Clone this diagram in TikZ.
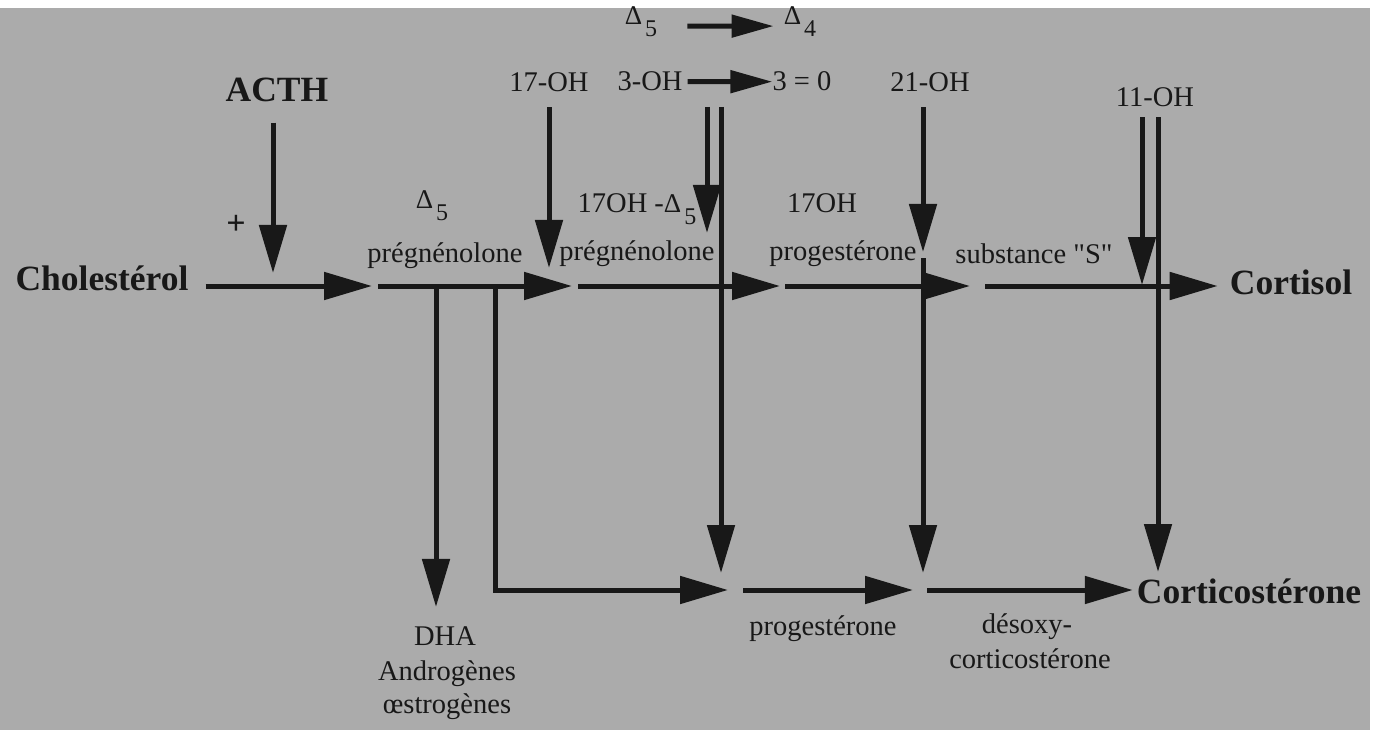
\documentclass[tikz,border=0pt]{standalone}
\usepackage{fontspec}
\setmainfont{Liberation Serif}
\newfontfamily\plainfont{Liberation Serif}[Ligatures=TeXOff]
\usetikzlibrary{arrows.meta}

\definecolor{paper}{RGB}{171,171,171}
\definecolor{ink}{RGB}{24,24,24}

% Delta with a lowered index
\newcommand{\dsub}[1]{{\fontsize{27}{27}\selectfont Δ}\hspace{3pt}\raisebox{-12pt}{\fontsize{24}{24}\selectfont #1}}

\begin{document}
\begin{tikzpicture}[x=1pt,y=-1pt]
        % Setup the styles
        \tikzset{big/.style={font=\fontsize{35.5}{40}\selectfont\bfseries,
                             text=ink, inner sep=0pt, anchor=base},
                 small/.style={font=\fontsize{28.5}{34}\selectfont,
                               text=ink, inner sep=0pt, anchor=base},
                 flow/.style={draw=ink, line width=5pt,
                              -{Triangle[length=48pt,width=27pt]}},
                 shiftarrow/.style={draw=ink, line width=5pt,
                                    -{Triangle[length=42pt,width=22pt]}}}

        % Paper
        \fill[white] (0,0) rectangle (1381,730);
        \fill[paper] (0,8) rectangle (1370,730);
        \useasboundingbox (0,0) rectangle (1381,730);

        % Main compounds
        \node[big] at (102,290)   (chol)     {Cholestérol};
        \node[big] at (1291,294)  (cortisol) {Cortisol};
        \node[big] at (1249,603)  (cortico)  {Corticostérone};
        \node[big] at (277,102)   (acth)     {ACTH};
        \node[small, font=\fontsize{34}{34}\selectfont\bfseries]
            at (236,234) (plus) {+};

        % Enzymes on top
        \node[small] at (641,25)   (dfive)   {\dsub{5}};
        \node[small] at (800,25)   (dfour)   {\dsub{4}};
        \node[small] at (549,92)   (oh17)    {17-OH};
        \node[small] at (650,91)   (ohthree) {3-OH};
        \node[small] at (802,91)   (keto)    {3 = 0};
        \node[small] at (930,92)   (oh21)    {21-OH};
        \node[small] at (1155,107) (oh11)    {11-OH};

        % Intermediates
        \node[small] at (432,208)  (dpreg)    {\dsub{5}};
        \node[small] at (445,262)  (pregA)    {prégnénolone};
        \node[small] at (637,213)  (ohpreg)   {17OH -\dsub{5}};
        \node[small] at (637,260)  (pregB)    {prégnénolone};
        \node[small] at (822,213)  (ohprog)   {17OH};
        \node[small] at (843,260)  (progA)    {progestérone};
        \node[small] at (1034,263) (subs)     {substance {\plainfont "S"}};
        \node[small] at (445,645)  (dha)      {DHA};
        \node[small] at (447,680)  (andro)    {Androgènes};
        \node[small] at (447,713)  (oestro)   {œstrogènes};
        \node[small] at (823,635)  (progB)    {progestérone};
        \node[small] at (1027,633) (desoxy)   {désoxy-};
        \node[small] at (1030,668) (desoxyB)  {corticostérone};

        % Points on the two lines
        \coordinate (m1) at (372,286);
        \coordinate (m2) at (572,286);
        \coordinate (m3) at (780,286);
        \coordinate (m4) at (970,286);
        \coordinate (fork1) at (436,284);
        \coordinate (fork2) at (495,284);
        \coordinate (b0) at (495,590);
        \coordinate (b1) at (728,590);
        \coordinate (b2) at (913,590);
        \coordinate (oxa) at (707,107);
        \coordinate (oxb) at (721,107);
        \coordinate (oxaend) at (707,233);
        \coordinate (oxbend) at (721,573);
        \coordinate (c21a) at (923,252);
        \coordinate (c21b) at (923,573);
        \coordinate (c11a) at (1142,285);
        \coordinate (c11b) at (1158,572);

        % Reaction arrows on top
        \draw[shiftarrow, shorten <=30pt, shorten >=10pt]
            ([yshift=-4pt]dfive.east) -- ([yshift=-4pt]dfour.west);
        \draw[shiftarrow, shorten <=5pt] (ohthree.east) -- (keto.west);

        % Main line
        \draw[flow, shorten <=17pt] (chol.east |- m1) -- (m1);
        \draw[flow, shorten <=6pt] (m1) -- (m2);
        \draw[flow, shorten <=6pt] (m2) -- (m3);
        \draw[flow, shorten <=5pt] (m3) -- (m4);
        \draw[flow, shorten <=15pt, shorten >=12pt] (m4) -- (cortisol.west |- m4);

        % Side branches
        \draw[flow, shorten >=19pt] (fork1) -- (dha.north -| fork1);
        \draw[flow] (fork2) -- (b0) -- (b1);
        \draw[flow, shorten <=15pt] (b1) -- (b2);
        \draw[flow, shorten <=14pt, shorten >=4pt] (b2) -- (cortico.west |- b2);

        % Enzymes acting downwards
        \draw[flow, shorten <=20pt, shorten >=13pt]
            ([xshift=-4pt]acth.south) -- ([xshift=-4pt]acth.south |- m1);
        \draw[flow, shorten <=15pt, shorten >=18pt]
            (oh17.south) -- (oh17.south |- m2);
        \draw[flow] (oxa) -- (oxaend);
        \draw[flow] (oxb) -- (oxbend);
        \draw[flow, shorten <=15pt] ([xshift=-7pt]oh21.south) -- (c21a);
        \draw[flow, shorten <=6pt] (c21a) -- (c21b);
        \draw[flow, shorten <=10pt] ([xshift=-13pt]oh11.south) -- (c11a);
        \draw[flow, shorten <=10pt] ([xshift=3pt]oh11.south) -- (c11b);
\end{tikzpicture}
\end{document}
